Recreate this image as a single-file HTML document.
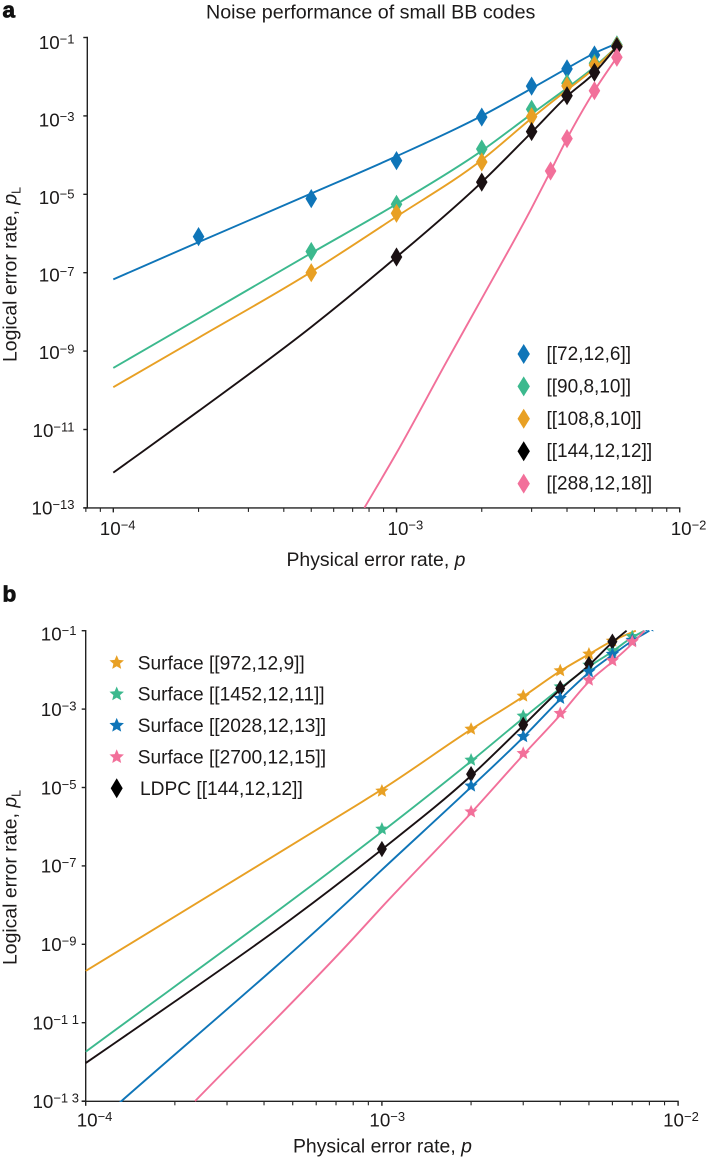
<!DOCTYPE html>
<html lang="en">
<head>
<meta charset="utf-8">
<title>Noise performance of small BB codes</title>
<style>
html,body{margin:0;padding:0;background:#fff;}
body{width:706px;height:1157px;overflow:hidden;}
svg{display:block;}
text{font-family:"Liberation Sans",Arial,sans-serif;fill:#1c1a1a;}
.lab{font-size:19.4px;}
.ttl{font-size:19.7px;}
.tick{font-size:18.8px;}
.leg{font-size:19px;}
.legb{font-size:19.15px;}
.panel{font-size:22.5px;font-weight:bold;fill:#111;stroke:#111;stroke-width:.8px;}
</style>
</head>
<body>
<svg id="fig" xmlns="http://www.w3.org/2000/svg" width="706" height="1157" viewBox="0 0 706 1157">
  <defs>
    <clipPath id="clipA"><rect x="87" y="30" width="593" height="478"/></clipPath>
    <clipPath id="clipB"><rect x="85" y="630" width="594" height="472"/></clipPath>
  </defs>
  <text class="panel" x="2.5" y="17.5">a</text>
  <text class="ttl" x="206" y="18.5">Noise performance of small BB codes</text>
  <text class="lab" x="286.5" y="566">Physical error rate, <tspan font-style="italic">p</tspan></text>
  <text class="lab" transform="translate(16.7,362) rotate(-90)">Logical error rate, <tspan font-style="italic">p</tspan><tspan font-size="12.5" dy="4">L</tspan></text>
  <text class="panel" x="2.5" y="601.5">b</text>
  <text class="lab" x="293" y="1152.5">Physical error rate, <tspan font-style="italic">p</tspan></text>
  <text class="lab" transform="translate(16.7,965) rotate(-90)">Logical error rate, <tspan font-style="italic">p</tspan><tspan font-size="12.5" dy="4">L</tspan></text>
  <g id="plotA"></g>
  <g id="plotB"></g>
</svg>
<script>
// ---------- Panel a data (log10 of logical error rate) ----------
const aYTickExponents = [-1, -3, -5, -7, -9, -11, -13];
const aXTickExponents = [-4, -3, -2];
const aYTickLabels = ['\u22121', '\u22123', '\u22125', '\u22127', '\u22129', '\u221211', '\u221213'];
const aXTickLabels = ['\u22124', '\u22123', '\u22122'];
const aMinorTicks = [8e-5, 9e-5, 2e-4, 3e-4, 4e-4, 5e-4, 6e-4, 7e-4, 8e-4, 9e-4, 2e-3, 3e-3, 4e-3, 5e-3, 6e-3, 7e-3, 8e-3, 9e-3];

const aCodeNames = ['[[72,12,6]]', '[[90,8,10]]', '[[108,8,10]]', '[[144,12,12]]', '[[288,12,18]]'];

const aBlueP = [2e-4, 5e-4, 1e-3, 2e-3, 3e-3, 4e-3, 5e-3, 6e-3];
const aBlueLogPL = [-6.08, -5.11, -4.14, -3.03, -2.24, -1.80, -1.446, -1.19];
const aGreenP = [5e-4, 1e-3, 2e-3, 3e-3, 4e-3, 5e-3, 6e-3];
const aGreenLogPL = [-6.46, -5.255, -3.844, -2.83, -2.168, -1.658, -1.19];
const aOrangeP = [5e-4, 1e-3, 2e-3, 3e-3, 4e-3, 5e-3, 6e-3];
const aOrangeLogPL = [-7.0, -5.485, -4.176, -3.02, -2.237, -1.70, -1.217];
const aBlackP = [1e-3, 2e-3, 3e-3, 4e-3, 5e-3, 6e-3];
const aBlackLogPL = [-6.6, -4.69, -3.40, -2.485, -1.888, -1.235];
const aPinkP = [3.5e-3, 4e-3, 5e-3, 6e-3];
const aPinkLogPL = [-4.406, -3.58, -2.357, -1.505];

const aFitP = [1e-4, 2e-4, 5e-4, 1e-3, 2e-3, 3e-3, 4e-3, 5e-3, 6e-3];
const aBlueFit = [-7.17, -6.22, -4.98, -4.03, -3.0, -2.3, -1.786, -1.40, -1.15];
const aGreenFit = [-9.43, -8.17, -6.5, -5.25, -3.89, -2.95, -2.29, -1.75, -1.235];
const aOrangeFit = [-9.92, -8.66, -6.98, -5.57, -4.125, -3.06, -2.34, -1.785, -1.235];
const aBlackFit = [-12.10, -10.53, -8.385, -6.6, -4.69, -3.42, -2.5, -1.9, -1.23];
const aPinkFitP = [7.7e-4, 1e-3, 1.5e-3, 2e-3, 3e-3, 3.5e-3, 4e-3, 5e-3, 6e-3];
const aPinkFit = [-13, -11.6, -9.28, -7.66, -5.35, -4.41, -3.58, -2.357, -1.505];

// ---------- Panel b data ----------
const bYTickExponents = [-1, -3, -5, -7, -9, -11, -13];
const bXTickExponents = [-4, -3, -2];
const bYTickLabels = ['\u22121', '\u22123', '\u22125', '\u22127', '\u22129', '\u22121 1', '\u22121 3'];
const bXTickLabels = ['\u22124', '\u22123', '\u22122'];
const bMinorTicks = [2e-4, 3e-4, 4e-4, 5e-4, 6e-4, 7e-4, 8e-4, 9e-4, 2e-3, 3e-3, 4e-3, 5e-3, 6e-3, 7e-3, 8e-3, 9e-3];

const bCodeNames = ['Surface [[972,12,9]]', 'Surface [[1452,12,11]]', 'Surface [[2028,12,13]]', 'Surface [[2700,12,15]]', 'LDPC [[144,12,12]]'];

const bOrangeP = [1e-3, 2e-3, 3e-3, 4e-3, 5e-3, 6e-3];
const bOrangeLogPL = [-5.09, -3.51, -2.666, -2.02, -1.594, -1.263];
const bGreenP = [1e-3, 2e-3, 3e-3, 4e-3, 5e-3, 6e-3, 7e-3];
const bGreenLogPL = [-6.06, -4.30, -3.176, -2.43, -1.875, -1.51, -1.15];
const bBlueP = [2e-3, 3e-3, 4e-3, 5e-3, 6e-3, 7e-3, 8e-3];
const bBlueLogPL = [-4.96, -3.70, -2.725, -2.045, -1.60, -1.24, -0.88];
const bPinkP = [2e-3, 3e-3, 4e-3, 5e-3, 6e-3, 7e-3];
const bPinkLogPL = [-5.62, -4.13, -3.11, -2.26, -1.765, -1.28];
const bBlackP = [1e-3, 2e-3, 3e-3, 4e-3, 5e-3, 6e-3];
const bBlackLogPL = [-6.57, -4.66, -3.40, -2.47, -1.85, -1.28];

const bOrangeFitP = [1e-4, 8e-4, 1e-3, 2e-3, 3e-3, 4e-3, 5e-3, 6e-3, 7.2e-3];
const bOrangeFit = [-9.68, -5.505, -5.05, -3.52, -2.68, -2.03, -1.6, -1.26, -1.0];
const bGreenFitP = [1e-4, 6.8e-4, 1e-3, 2e-3, 3e-3, 4e-3, 5e-3, 6e-3, 7e-3, 7.7e-3];
const bGreenFit = [-11.74, -7.10, -6.13, -4.33, -3.23, -2.47, -1.92, -1.53, -1.17, -1.0];
const bBlackFitP = [1e-4, 2e-4, 5e-4, 1e-3, 2e-3, 3e-3, 4e-3, 5e-3, 6e-3, 6.7e-3];
const bBlackFit = [-12.03, -10.46, -8.33, -6.58, -4.7, -3.42, -2.5, -1.88, -1.3, -1.0];
const bBlueFitP = [1e-4, 1.32e-4, 8e-4, 1e-3, 2e-3, 3e-3, 4e-3, 5e-3, 6e-3, 7e-3, 8e-3];
const bBlueFit = [-13.8, -13, -7.785, -7.1, -4.99, -3.72, -2.75, -2.07, -1.62, -1.26, -1.0];
const bPinkFitP = [2.34e-4, 8e-4, 1e-3, 2e-3, 3e-3, 4e-3, 5e-3, 6e-3, 7e-3, 7.7e-3];
const bPinkFit = [-13, -8.85, -8.05, -5.65, -4.17, -3.15, -2.3, -1.79, -1.33, -1.0];

const NS = 'http://www.w3.org/2000/svg';
const BLUE = '#0f75b8', GREEN = '#3cb98e', ORANGE = '#e8a024', BLACK = '#1a1113', PINK = '#f2709a';

function make(parent, tag, attrs) {
  const el = document.createElementNS(NS, tag);
  for (const k in attrs) el.setAttribute(k, attrs[k]);
  parent.appendChild(el);
  return el;
}

// axis functions
const xA = p => 113.3 + (Math.log10(p) + 4) * 283.2;
const yA = e => 37.5 + (-1 - e) * 39.2;
const xB = p => 85.7 + (Math.log10(p) + 4) * 296.2;
const yB = e => 630.7 + (-1 - e) * 39.2;

function diamondPath(cx, cy, hw, hh) {
  return 'M' + cx + ' ' + (cy - hh) + 'L' + (cx + hw) + ' ' + cy + 'L' + cx + ' ' + (cy + hh) + 'L' + (cx - hw) + ' ' + cy + 'Z';
}
function starPath(cx, cy, r) {
  let d = '';
  for (let i = 0; i < 10; i++) {
    const rad = i % 2 ? r * 0.46 : r;
    const a = -Math.PI / 2 + i * Math.PI / 5;
    d += (i ? 'L' : 'M') + (cx + rad * Math.cos(a)).toFixed(2) + ' ' + (cy + rad * Math.sin(a)).toFixed(2);
  }
  return d + 'Z';
}

// smooth curve through the fit points (cubic with averaged tangents)
function smoothPath(xs, ys) {
  const n = xs.length, s = [], m = [];
  for (let i = 0; i < n - 1; i++) s.push((ys[i + 1] - ys[i]) / (xs[i + 1] - xs[i]));
  for (let i = 0; i < n; i++) {
    if (i === 0) m.push(s[0]);
    else if (i === n - 1) m.push(s[n - 2]);
    else {
      const a = xs[i] - xs[i - 1], b = xs[i + 1] - xs[i];
      m.push((s[i - 1] * b + s[i] * a) / (a + b));
    }
  }
  let d = 'M' + xs[0].toFixed(2) + ' ' + ys[0].toFixed(2);
  for (let i = 0; i < n - 1; i++) {
    const h = (xs[i + 1] - xs[i]) / 3;
    d += 'C' + (xs[i] + h).toFixed(2) + ' ' + (ys[i] + m[i] * h).toFixed(2) + ' ' +
         (xs[i + 1] - h).toFixed(2) + ' ' + (ys[i + 1] - m[i + 1] * h).toFixed(2) + ' ' +
         xs[i + 1].toFixed(2) + ' ' + ys[i + 1].toFixed(2);
  }
  return d;
}

function drawSeries(parent, clip, xf, yf, fitP, fit, p, vals, color, kind, size, name) {
  const g = make(parent, 'g', { 'clip-path': 'url(#' + clip + ')' });
  
  
  const d0 = smoothPath(fitP.map(xf), fit.map(yf));
  const line = make(g, 'path', { d: d0, fill: 'none', stroke: color, 'stroke-width': 1.9, 'stroke-linejoin': 'round' });
  
  
  p.forEach((q, i) => {
    const cx = xf(q), cy = yf(vals[i]);
    const d = kind === 'star' ? starPath(cx, cy, size[0]) : diamondPath(cx, cy, size[0], size[1]);
    const m = make(g, 'path', { d: d, fill: color });
    
    
  });
}

function drawAxes(parent, x0, x1, y0, y1, xf, yf, xExp, yExp, minor, xLabs, yLabs, yRight, xLabelY, xLabelOffsets, yOffsets, prefix) {
  const s = { stroke: '#222', 'stroke-width': 1.4, fill: 'none' };
  const ya = make(parent, 'line', Object.assign({ x1: x0, x2: x0, y1: y0 - 0.7, y2: y1 + 0.7 }, s));
  
  
  const xa = make(parent, 'line', Object.assign({ x1: x0 - 4, x2: x1 + 0.7, y1: y1, y2: y1 }, s));
  
  

  yExp.forEach((e, i) => {
    const y = yf(e);
    const t = make(parent, 'line', Object.assign({ x1: x0 - 4, x2: x0, y1: y, y2: y }, s));
    
    
    const lab = make(parent, 'text', { class: 'tick', x: yRight(i), y: (y + yOffsets(i)).toFixed(1), 'text-anchor': 'end' });
    
    
    lab.style.whiteSpace = 'pre';
    lab.appendChild(document.createTextNode('10'));
    const sup = make(lab, 'tspan', { dy: -5.5, 'font-size': 13 });
    sup.textContent = yLabs[i];
  });

  xExp.forEach((e, i) => {
    const x = xf(Math.pow(10, e));
    const t = make(parent, 'line', Object.assign({ x1: x, x2: x, y1: y1, y2: y1 + 4.5 }, s));
    
    
    const lab = make(parent, 'text', { class: 'tick', x: (x + xLabelOffsets[i]).toFixed(1), y: xLabelY });
    
    
    lab.appendChild(document.createTextNode('10'));
    const sup = make(lab, 'tspan', { dy: -5.5, 'font-size': 13 });
    sup.textContent = xLabs[i];
  });

  minor.forEach(q => {
    const x = xf(q);
    const t = make(parent, 'line', { x1: x, x2: x, y1: y1, y2: y1 + 4, stroke: '#222', 'stroke-width': 1.1 });
    
    
  });
}

function drawLegend(parent, names, colors, kinds, ys, baselines, mx, textX, size, prefix, cls) {
  names.forEach((nm, i) => {
    const g = make(parent, 'g', {});
    
    
    const d = kinds[i] === 'star' ? starPath(mx, ys(i), 7.6) : diamondPath(mx, ys(i), size[0], size[1]);
    const m = make(g, 'path', { d: d, fill: colors[i] });
    
    
    const t = make(g, 'text', { class: cls, x: textX(i), y: baselines(i) });
    
    
    t.textContent = nm;
  });
}

const plotA = document.getElementById('plotA');
const plotB = document.getElementById('plotB');

drawAxes(plotA, 87.3, 679.7, 37.5, 507.9, xA, yA, aXTickExponents, aYTickExponents, aMinorTicks,
  aXTickLabels, aYTickLabels, () => 74.5, 535, [-13.5, -9, -9], i => 11.5 - i * 0.85, 'panel-a');
const aDia = [5.8, 9.6];
drawSeries(plotA, 'clipA', xA, yA, aFitP, aBlueFit, aBlueP, aBlueLogPL, BLUE, 'diamond', aDia, 'code-72');
drawSeries(plotA, 'clipA', xA, yA, aFitP, aGreenFit, aGreenP, aGreenLogPL, GREEN, 'diamond', aDia, 'code-90');
drawSeries(plotA, 'clipA', xA, yA, aFitP, aOrangeFit, aOrangeP, aOrangeLogPL, ORANGE, 'diamond', aDia, 'code-108');
drawSeries(plotA, 'clipA', xA, yA, aFitP, aBlackFit, aBlackP, aBlackLogPL, BLACK, 'diamond', aDia, 'code-144');
drawSeries(plotA, 'clipA', xA, yA, aPinkFitP, aPinkFit, aPinkP, aPinkLogPL, PINK, 'diamond', aDia, 'code-288');
drawLegend(plotA, aCodeNames, [BLUE, GREEN, ORANGE, '#000', PINK], ['d', 'd', 'd', 'd', 'd'],
  i => 354 + i * 32.4, i => 360 + i * 32.4, 523.7, () => 546.5, [6.2, 10], 'panel-a', 'leg');

drawAxes(plotB, 85.7, 678, 630.7, 1101.3, xB, yB, bXTickExponents, bYTickExponents, bMinorTicks,
  bXTickLabels, bYTickLabels, i => (i > 4 ? 79 : 76.5), 1126.7, [-9, -12.5, -15], i => (i === 0 ? 10 : 6.8), 'panel-b');
const bStar = [7];
const bDia = [5, 8.2];
drawSeries(plotB, 'clipB', xB, yB, bOrangeFitP, bOrangeFit, bOrangeP, bOrangeLogPL, ORANGE, 'star', bStar, 'surface-972');
drawSeries(plotB, 'clipB', xB, yB, bGreenFitP, bGreenFit, bGreenP, bGreenLogPL, GREEN, 'star', bStar, 'surface-1452');
drawSeries(plotB, 'clipB', xB, yB, bBlackFitP, bBlackFit, bBlackP, bBlackLogPL, BLACK, 'diamond', bDia, 'ldpc-144');
drawSeries(plotB, 'clipB', xB, yB, bBlueFitP, bBlueFit, bBlueP, bBlueLogPL, BLUE, 'star', bStar, 'surface-2028');
drawSeries(plotB, 'clipB', xB, yB, bPinkFitP, bPinkFit, bPinkP, bPinkLogPL, PINK, 'star', bStar, 'surface-2700');
drawLegend(plotB, bCodeNames, [ORANGE, GREEN, BLUE, PINK, '#000'], ['star', 'star', 'star', 'star', 'd'],
  i => 662.7 + i * 31.4, i => 669.3 + i * 31.4, 116.7, i => (i === 4 ? 140 : 137.7), [6, 10], 'panel-b', 'legb');
</script>
</body>
</html>
